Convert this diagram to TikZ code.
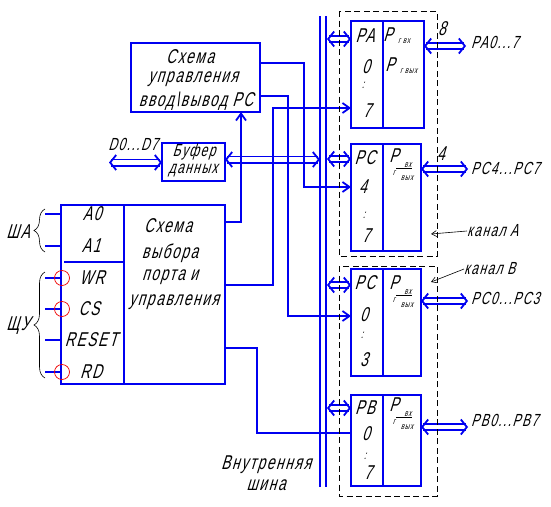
\documentclass[tikz,border=0pt]{standalone}
\usepackage{fontspec}
\setmainfont[LetterSpace=8, FakeStretch=0.69, FakeSlant=0.3]{Liberation Sans}
\usetikzlibrary{arrows.meta, decorations.pathreplacing}
\definecolor{wireblue}{HTML}{0000F0}
\definecolor{invred}{HTML}{F00000}
\tikzset{
  block/.style={rectangle, draw=wireblue, line width=1.8pt, outer sep=0pt, inner sep=0pt},
  wire/.style={draw=wireblue, line width=1.8pt},
  tipwire/.style={wire, -{Straight Barb[length=7pt, width=10pt]}},
  dblbus/.style={draw=wireblue, line width=1.8pt, double=white, double distance=4.4pt,
                 {Straight Barb[length=6pt, width=15pt]}-{Straight Barb[length=6pt, width=15pt]}},
  lbl/.style={font=\fontsize{20}{20}\selectfont, inner sep=0pt, align=center},
  outlbl/.style={font=\fontsize{17.5}{17.5}\selectfont, inner sep=0pt, anchor=west},
  tiny/.style={font=\fontsize{9}{9}\selectfont, inner sep=0pt},
  frame/.style={draw=black, line width=0.6pt, dash pattern=on 6pt off 3.5pt},
  pointer/.style={draw=black, line width=0.6pt, -{Straight Barb[length=5pt, width=6pt]}},
  bracket/.style={draw=black, line width=0.6pt, decorate, decoration={brace, amplitude=11pt}},
}
\begin{document}
\begin{tikzpicture}[x=1pt, y=-1pt]
  \useasboundingbox (0,0) rectangle (551,506);
  % blocks
  \node[block, minimum width=129pt, minimum height=69pt] (ctlbox) at (195.5,77.5) {};
  \node[block, minimum width=63pt, minimum height=38pt] (bufbox) at (193.5,162) {};
  \node[block, minimum width=164pt, minimum height=179pt] (selbox) at (143,294.5) {};
  \foreach \n/\x/\y/\w/\h in {pabox/387.5/74.5/73/107, pcabox/386/197.5/70/107, pcbbox/386/322.5/70/107, pbbox/386/440.5/70/91}{
    \node[block, minimum width=\w pt, minimum height=\h pt] (\n) at (\x,\y) {};
    \draw[wire] ([xshift=32pt]\n.north west) -- ([xshift=32pt]\n.south west);
  }
  \draw[wire] ([xshift=63pt]selbox.north west) -- ([xshift=63pt]selbox.south west);
  \draw[wire] ([xshift=3pt,yshift=-57pt]selbox.north west) -- ([xshift=63pt,yshift=-57pt]selbox.north west);
  % double arrows
  \coordinate (dd) at (109,162.5);
  \coordinate (bb) at (320,159.5);
  \draw[dblbus] (dd) -- (dd -| bufbox.west);
  \draw[dblbus] (bb -| bufbox.east) -- (bb);
  \foreach \n/\y in {pabox/39, pcabox/159, pcbbox/285, pbbox/408}{
    \coordinate (t\n) at (327,\y);
    \draw[dblbus] (t\n) -- (t\n -| \n.west);
  }
  \foreach \n/\y/\e in {pabox/46/466, pcabox/169/468, pcbbox/301/468, pbbox/427/468}{
    \coordinate (o\n) at (\e,\y);
    \draw[dblbus] (o\n -| \n.east) -- (o\n);
  }
  % internal bus
  \coordinate (bust) at (320,16);
  \coordinate (busb) at (320,487);
  \draw[wire] (bust) -- (busb);
  \draw[wire] ([xshift=6pt]bust) -- ([xshift=6pt]busb);
  % control lines
  \coordinate (k1) at (241,222);
  \coordinate (k2) at (273,285);
  \coordinate (k3) at (273,108);
  \coordinate (k4) at (257,348);
  \coordinate (k5) at (257,433);
  \coordinate (k6) at (304,63);
  \coordinate (k7) at (304,187);
  \coordinate (k8) at (288,96);
  \coordinate (k9) at (288,316);
  \draw[tipwire] (k1 -| selbox.east) -- (k1) -- (k1 |- ctlbox.south);
  \draw[tipwire] (k2 -| selbox.east) -- (k2) -- (k3) -- (k3 -| pabox.west);
  \draw[wire] (k4 -| selbox.east) -- (k4) -- (k5) -- (k5 -| pbbox.west);
  \draw[tipwire] (k6 -| ctlbox.east) -- (k6) -- (k7) -- (k7 -| pcabox.west);
  \draw[tipwire] (k8 -| ctlbox.east) -- (k8) -- (k9) -- (k9 -| pcbbox.west);
  % channel frames
  \draw[frame] (339,11) rectangle (437,256);
  \draw[frame] (339,266) rectangle (437,496);
  % block texts
  \node[lbl] (ctl1) at (190,57) {Схема};
  \node[lbl] (ctl2) at (193,79) {управления};
  \node[lbl] (ctl3) at (196,101) {ввод\textbackslash вывод PC};
  \node[outlbl, anchor=center] (buf1) at (194,152) {Буфер};
  \node[outlbl, anchor=center] (buf2) at (193,171) {данных};
  \node[lbl] (sel1) at (168,226) {Схема};
  \node[lbl] (sel2) at (170,253) {выбора};
  \node[lbl] (sel3) at (170,277) {порта и};
  \node[lbl] (sel4) at (174,302) {управления};
  \node[outlbl, anchor=center] (dlab) at (133,144) {D0...D7};
  % selector inputs
  \foreach \n/\t/\x/\y/\inv in {az/A0/92/214/0, ao/A1/91/246/0, wr/WR/92/278/1, cs/CS/89/309/1, rs/RESET/91/340/0, rd/RD/91/372/1}{
    \node[lbl] (\n) at (\x,\y) {\t};
    \draw[wire] (\n -| selbox.west) -- ++(-16,0);
    \ifnum\inv=1
      \draw[invred, line width=0.7pt] (\n -| selbox.west) ++(1,0) circle (7.5);
    \fi
  }
  \draw[bracket] (45,252) -- (45,209);
  \draw[bracket] (45,378) -- (45,272);
  \node[lbl] (shalab) at (18,232) {ША};
  \node[lbl] (shulab) at (18,326) {ЩУ};
  % port texts
  \foreach \n/\t/\x/\y in {pa1/PA/365/36, pa2/0/366/67, pa3/7/367/111, pc1/PC/365/158, pc2/4/363/187, pc3/7/366/236, pd1/PC/365/283, pd2/0/364/315, pd3/3/364/360, pb1/PB/365/408, pb2/0/366/434, pb3/7/368/473}{
    \node[lbl] (\n) at (\x,\y) {\t};
  }
  \foreach \n/\x/\y in {pa4/363/85, pc4/364/215, pd4/362/335, pb4/365/456}{
    \node[lbl, font=\fontsize{12}{12}\selectfont] (\n) at (\x,\y) {:};
  }
  \node[lbl] (pgvx) at (388,35) {P};
  \node[tiny, anchor=west] (pgvxs) at (398,41) {г вх};
  \node[lbl] (pgvy) at (390,65) {P};
  \node[tiny, anchor=west] (pgvys) at (400,71) {г вых};
  \foreach \n/\y in {fa/159, fb/286, fc/408}{
    \node[lbl] (\n p) at (394,\y-3) {P};
    \node[tiny] (\n g) at (394,\y+14) {г};
    \node[tiny] (\n u) at (408,\y+6) {вх};
    \node[tiny] (\n d) at (407,\y+19) {вых};
    \draw[black, line width=0.6pt] (\n u.south -| \n g.east) ++(1,0.5) -- ++(16,0);
  }
  % outer texts
  \node[lbl] (num8) at (442,29) {8};
  \node[lbl] (num4) at (441,154) {4};
  \node[outlbl] (pao) at (471,42) {PA0...7};
  \node[outlbl] (pco) at (471,168) {PC4...PC7};
  \node[outlbl] (pdo) at (471,298) {PC0...PC3};
  \node[outlbl] (pbo) at (471,420) {PB0...PB7};
  \node[outlbl] (cha) at (467,231) {канал А};
  \node[outlbl] (chb) at (464,269) {канал В};
  \coordinate (cha t) at (431,234);
  \coordinate (chb t) at (431,282);
  \draw[pointer] (cha.west) -- (cha t);
  \draw[pointer] (chb.west) -- (chb t);
  \node[lbl] (bus1) at (266,465) {Внутренняя};
  \node[lbl] (bus2) at (266,485) {шина};
\end{tikzpicture}
\end{document}
